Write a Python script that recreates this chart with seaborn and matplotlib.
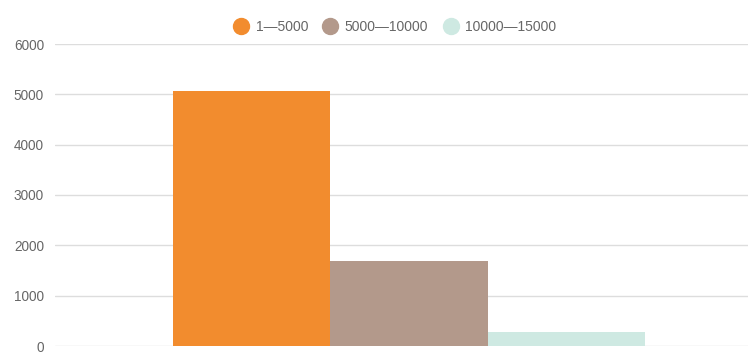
import matplotlib
matplotlib.use("Agg")
import matplotlib.pyplot as plt
import seaborn as sns
import pandas as pd
from matplotlib.lines import Line2D

categories = ["total"]
series = ["1—5000", "5000—10000", "10000—15000"]
values = [5070, 1690, 280]
colors = ["#F28C2E", "#B3998B", "#CEE9E2"]
yticks = [0, 1000, 2000, 3000, 4000, 5000, 6000]

df = pd.DataFrame({"cat": categories * len(series), "series": series, "value": values})

sns.set_theme(style="white")
plt.rcParams['font.family'] = ['Liberation Sans', 'DejaVu Sans']

W, H = 748, 361
fig = plt.figure(figsize=(W / 100, H / 100), dpi=100)
ax = fig.add_axes([55 / W, 15 / H, (W - 55) / W, 302 / H])

sns.barplot(data=df, x="cat", y="value", hue="series", hue_order=series,
            palette=colors, width=0.68, linewidth=0, saturation=1, ax=ax,
            legend=False, zorder=3)

ax.set_ylim(0, 6000)
ax.set_xlim(-0.5108, 0.4892)
ax.set_yticks(yticks)
ax.set_yticklabels([str(t) for t in yticks], color="#666666", fontsize=9.8)
ax.set_xticks([])
ax.set_xlabel("")
ax.set_ylabel("")
ax.tick_params(axis="y", length=0, pad=8)
for s in ax.spines.values():
    s.set_visible(False)
ax.grid(axis="y", color="#dddddd", linewidth=1, zorder=0)
ax.set_axisbelow(True)

handles = [Line2D([], [], marker="o", linestyle="", markersize=11.5,
                  markerfacecolor=c, markeredgecolor=c) for c in colors]
fig.legend(handles, series, loc="center", bbox_to_anchor=(394.5 / W, 1 - 27 / H),
           ncol=3, frameon=False, fontsize=10, labelcolor="#666666",
           handletextpad=0.45, columnspacing=1.0, handlelength=1.2)

fig.savefig("out.png", dpi=100)
